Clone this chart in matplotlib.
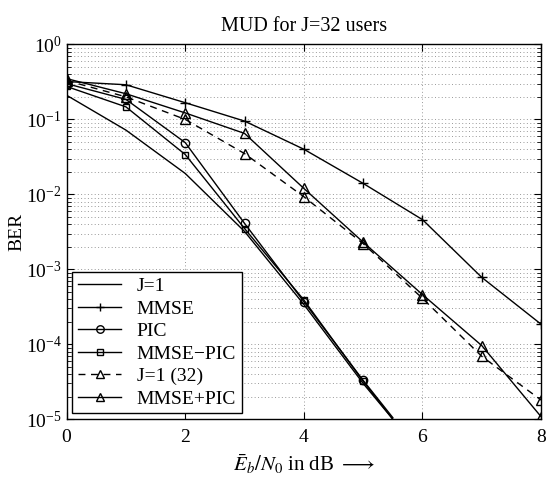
import numpy as np
import matplotlib
matplotlib.use('Agg')
import matplotlib.pyplot as plt

plt.rcParams['font.family'] = ['Liberation Serif', 'DejaVu Serif']
plt.rcParams['mathtext.fontset'] = 'stix'

# ----------------------------------------------------------------------
# BER curves
# ----------------------------------------------------------------------
snr_db = [0, 1, 2, 3, 4, 5, 6, 7, 8]
snr_j1 = [0, 1, 2, 3, 4, 5, 5.5]
snr_pic = [0, 1, 2, 3, 4, 5, 5.5]

ber_j1 = [0.21, 0.072, 0.019, 0.0032, 3.4e-4, 3.0e-5, 1.0e-5]
ber_mmse = [0.32, 0.29, 0.167, 0.095, 0.040, 0.014, 0.0046, 7.8e-4, 1.85e-4]
ber_pic = [0.30, 0.185, 0.049, 0.0041, 3.7e-4, 3.3e-5, 1.05e-5]
ber_mmse_pic = [0.275, 0.147, 0.034, 0.0035, 3.9e-4, 3.2e-5, 1.0e-5]
ber_j1_32 = [0.33, 0.20, 0.10, 0.035, 0.0093, 0.0022, 4.1e-4, 6.9e-5, 1.8e-5]
ber_mmse_plus_pic = [0.35, 0.22, 0.122, 0.065, 0.012, 0.0023, 4.6e-4, 9.6e-5, 1.08e-5]

fig = plt.figure(figsize=(5.46, 4.78), dpi=100)
ax = fig.add_axes([0.122, 0.123, 0.869, 0.784])

lw = 1.0
ax.semilogy(snr_j1, ber_j1, '-', color='k', lw=lw, label='J=1')
ax.semilogy(snr_db, ber_mmse, '-+', color='k', lw=lw, ms=7, mew=1.0, label='MMSE')
ax.semilogy(snr_pic, ber_pic, '-o', color='k', lw=lw, ms=6, mfc='none', mew=1.0,
            label='PIC', markevery=range(6))
ax.semilogy(snr_pic, ber_mmse_pic, '-s', color='k', lw=lw, ms=5, mfc='none', mew=1.0,
            label='MMSE\u2212PIC', markevery=range(6))
ax.semilogy(snr_db, ber_j1_32, '--^', color='k', lw=lw, ms=7, mfc='none', mew=1.0,
            dashes=(5, 4), label='J=1 (32)')
ax.semilogy(snr_db, ber_mmse_plus_pic, '-^', color='k', lw=lw, ms=7, mfc='none', mew=1.0,
            label='MMSE+PIC')

ax.set_xlim(0, 8)
ax.set_ylim(1e-5, 1)
ax.set_xticks([0, 2, 4, 6, 8])
grid_kw = dict(linestyle=(0, (1, 2.5)), color='0.6', lw=0.7)
ax.grid(True, which='major', **grid_kw)
ax.grid(True, which='minor', axis='y', **grid_kw)
ax.tick_params(which='both', direction='in', top=True, right=True, labelsize=14)
ax.tick_params(which='major', length=5)
ax.tick_params(which='minor', length=3)
ax.tick_params(axis='x', pad=7)
for s in ax.spines.values():
    s.set_linewidth(1.0)

ax.set_title('MUD for J=32 users', fontsize=14.5, pad=10)
ax.set_xlabel(r'$\bar{E}_b/N_0$ in dB $\longrightarrow$', fontsize=15, labelpad=5)
ax.set_ylabel('BER', fontsize=14, labelpad=0)

leg = ax.legend(loc='lower left', fontsize=14, frameon=True, fancybox=False,
                edgecolor='k', framealpha=1, borderaxespad=0.3, markerscale=0.9,
                handlelength=2.2, labelspacing=0.25, borderpad=0.3)
leg.get_frame().set_linewidth(1.0)

fig.savefig('out.png', dpi=100)
